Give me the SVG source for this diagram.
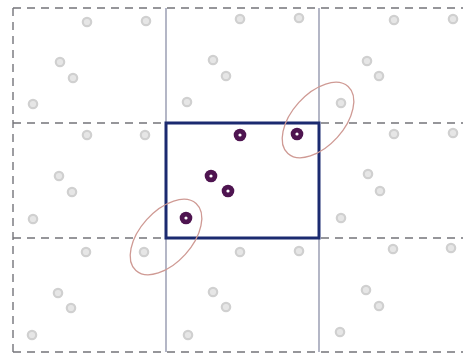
<svg xmlns="http://www.w3.org/2000/svg" width="467" height="359" viewBox="0 0 467 359">
<defs>
<style>
.dash{stroke:#74747a;stroke-width:1.4;stroke-dasharray:8 6;fill:none}
.solid{stroke:#8c90a8;stroke-width:1.3;fill:none}
.g{fill:#e6e6e6;stroke:#d0d0d0;stroke-width:2.2}
.p{fill:#4e1450}
.pc{fill:#ffffff}
.ell{fill:none;stroke:#cf9a94;stroke-width:1.3}
.box{fill:none;stroke:#1b2a70;stroke-width:3}
</style>
<g id="pt">
<circle class="g" cx="0" cy="0" r="4.2"/>
</g>
<g id="pp">
<circle class="p" cx="0" cy="0" r="6.3"/>
<circle class="pc" cx="0" cy="0" r="1.6"/>
</g>
</defs>
<rect width="467" height="359" fill="#ffffff"/>
<g id="grid">
<line class="dash" x1="13" y1="8" x2="463" y2="8"/>
<line class="dash" x1="13" y1="123" x2="463" y2="123"/>
<line class="dash" x1="13" y1="238" x2="463" y2="238"/>
<line class="dash" x1="13" y1="352" x2="463" y2="352"/>
<line class="dash" x1="13" y1="8" x2="13" y2="352"/>
<line class="solid" x1="166" y1="8" x2="166" y2="352"/>
<line class="solid" x1="319" y1="8" x2="319" y2="352"/>
</g>
<g id="gray-points">
<use href="#pt" x="87" y="22"/><use href="#pt" x="146" y="21"/><use href="#pt" x="60" y="62"/><use href="#pt" x="73" y="78"/><use href="#pt" x="33" y="104"/>
<use href="#pt" x="240" y="19"/><use href="#pt" x="299" y="18"/><use href="#pt" x="213" y="60"/><use href="#pt" x="226" y="76"/><use href="#pt" x="187" y="102"/>
<use href="#pt" x="394" y="20"/><use href="#pt" x="453" y="19"/><use href="#pt" x="367" y="61"/><use href="#pt" x="379" y="76"/><use href="#pt" x="341" y="103"/>
<use href="#pt" x="87" y="135"/><use href="#pt" x="145" y="135"/><use href="#pt" x="59" y="176"/><use href="#pt" x="72" y="192"/><use href="#pt" x="33" y="219"/>
<use href="#pt" x="394" y="134"/><use href="#pt" x="453" y="133"/><use href="#pt" x="368" y="174"/><use href="#pt" x="380" y="191"/><use href="#pt" x="341" y="218"/>
<use href="#pt" x="86" y="252"/><use href="#pt" x="144" y="252"/><use href="#pt" x="58" y="293"/><use href="#pt" x="71" y="308"/><use href="#pt" x="32" y="335"/>
<use href="#pt" x="240" y="252"/><use href="#pt" x="299" y="251"/><use href="#pt" x="213" y="292"/><use href="#pt" x="226" y="307"/><use href="#pt" x="188" y="335"/>
<use href="#pt" x="393" y="249"/><use href="#pt" x="451" y="248"/><use href="#pt" x="366" y="290"/><use href="#pt" x="379" y="306"/><use href="#pt" x="340" y="332"/>
</g>
<g id="query-box">
<rect class="box" x="166" y="123" width="153" height="115"/>
</g>
<g id="purple-points">
<use href="#pp" x="240" y="135"/><use href="#pp" x="297" y="134"/><use href="#pp" x="211" y="176"/><use href="#pp" x="228" y="191"/><use href="#pp" x="186" y="218"/>
</g>
<g id="pairs">
<ellipse class="ell" cx="318" cy="120" rx="45" ry="26" transform="rotate(-48 318 120)"/>
<ellipse class="ell" cx="166" cy="237" rx="45" ry="26" transform="rotate(-48 166 237)"/>
</g>
</svg>
